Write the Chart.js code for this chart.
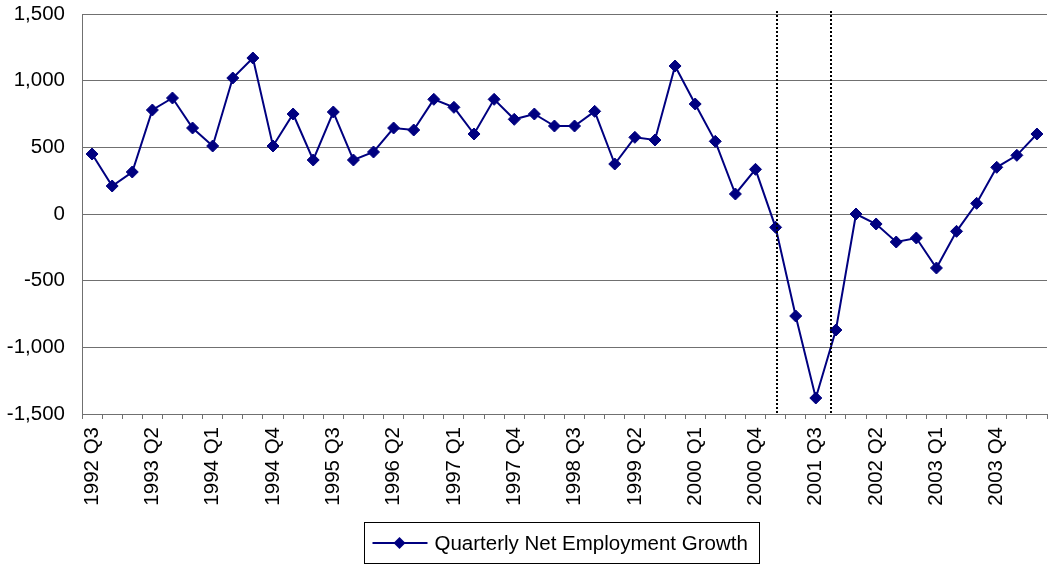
<!DOCTYPE html>
<html>
<head>
<meta charset="utf-8">
<script src="https://cdn.jsdelivr.net/npm/chart.js@4/dist/chart.umd.min.js"></script>
<style>
  html, body { margin: 0; padding: 0; background: #fff; }
  #wrap { width: 1049px; height: 565px; }
</style>
</head>
<body>
<div id="wrap"><canvas id="employmentChart"></canvas></div>
<script>
const quarters = [
  '1992 Q3', '1992 Q4', '1993 Q1', '1993 Q2', '1993 Q3', '1993 Q4',
  '1994 Q1', '1994 Q2', '1994 Q3', '1994 Q4', '1995 Q1', '1995 Q2',
  '1995 Q3', '1995 Q4', '1996 Q1', '1996 Q2', '1996 Q3', '1996 Q4',
  '1997 Q1', '1997 Q2', '1997 Q3', '1997 Q4', '1998 Q1', '1998 Q2',
  '1998 Q3', '1998 Q4', '1999 Q1', '1999 Q2', '1999 Q3', '1999 Q4',
  '2000 Q1', '2000 Q2', '2000 Q3', '2000 Q4', '2001 Q1', '2001 Q2',
  '2001 Q3', '2001 Q4', '2002 Q1', '2002 Q2', '2002 Q3', '2002 Q4',
  '2003 Q1', '2003 Q2', '2003 Q3', '2003 Q4', '2004 Q1', '2004 Q2'
];

const netGrowth = [
  450, 210, 315, 780, 870, 645,
  510, 1020, 1170, 510, 750, 405,
  765, 405, 465, 645, 630, 860,
  800, 600, 860, 710, 750, 660,
  660, 770, 375, 575, 555, 1110,
  825, 545, 150, 335, -100, -765,
  -1380, -870, 0, -75, -210, -180,
  -405, -130, 80, 350, 440, 600
];

// recession start / end, in quarter positions on the x axis
const recessionLines = [34.05, 36.75];

const yTicks = [-1500, -1000, -500, 0, 500, 1000, 1500];

const seriesName = 'Quarterly Net Employment Growth';
const navy = '#000080';
const axisGray = '#707070';
const FONT = '"Liberation Sans", Arial, sans-serif';

// dotted vertical lines marking the recession
const recessionPlugin = {
  id: 'recession',
  afterDatasetsDraw(chart) {
    const { ctx, chartArea, scales } = chart;
    ctx.save();
    ctx.strokeStyle = '#000';
    ctx.lineWidth = 2;
    ctx.setLineDash([2, 2]);
    recessionLines.forEach(q => {
      const x = Math.round(scales.x.getPixelForValue(q));
      ctx.beginPath();
      ctx.moveTo(x, chartArea.top - 3);
      ctx.lineTo(x, chartArea.bottom);
      ctx.stroke();
    });
    ctx.restore();
  }
};

// boxed legend with a line + diamond sample
const legendPlugin = {
  id: 'boxLegend',
  afterDraw(chart) {
    const { ctx } = chart;
    const ds = chart.data.datasets[0];
    ctx.save();
    ctx.font = '20.5px ' + FONT;
    const textW = ctx.measureText(ds.label).width;
    const boxW = Math.round(70 + textW + 12);
    const boxH = 41;
    const left = Math.round(561 - boxW / 2) + 0.5;
    const top = chart.height - 43 + 0.5;

    ctx.strokeStyle = '#000';
    ctx.lineWidth = 1;
    ctx.strokeRect(left, top, boxW, boxH);

    const cy = top + 20.5;
    ctx.strokeStyle = navy;
    ctx.lineWidth = 2;
    ctx.beginPath();
    ctx.moveTo(left + 8, cy);
    ctx.lineTo(left + 63, cy);
    ctx.stroke();

    const cx = left + 35, r = 6;
    ctx.fillStyle = navy;
    ctx.beginPath();
    ctx.moveTo(cx - r, cy);
    ctx.lineTo(cx, cy - r);
    ctx.lineTo(cx + r, cy);
    ctx.lineTo(cx, cy + r);
    ctx.closePath();
    ctx.fill();

    ctx.fillStyle = '#000';
    ctx.textBaseline = 'middle';
    ctx.textAlign = 'left';
    ctx.fillText(ds.label, left + 70, cy + 1);
    ctx.restore();
  }
};

new Chart(document.getElementById('employmentChart'), {
  type: 'line',
  data: {
    labels: quarters,
    datasets: [{
      label: seriesName,
      data: netGrowth,
      borderColor: navy,
      backgroundColor: navy,
      borderWidth: 2,
      tension: 0,
      pointStyle: 'rectRot',
      pointRadius: 6,
      pointBorderWidth: 1,
      pointBackgroundColor: navy,
      pointBorderColor: navy
    }]
  },
  options: {
    responsive: true,
    maintainAspectRatio: false,
    animation: false,
    layout: {
      autoPadding: false,
      padding: { top: 14, right: 2, bottom: 51, left: 0 }
    },
    plugins: {
      legend: { display: false },
      tooltip: { enabled: false }
    },
    scales: {
      x: {
        type: 'category',
        offset: true,
        grid: {
          offset: true,
          drawOnChartArea: false,
          drawTicks: true,
          tickLength: 5,
          color: axisGray
        },
        border: { color: axisGray, width: 1 },
        ticks: {
          autoSkip: false,
          maxRotation: 90,
          minRotation: 90,
          padding: 8,
          color: '#000',
          font: { family: FONT, size: 20.5 },
          callback: function (value, index) {
            return index % 3 === 0 ? this.getLabelForValue(value) : '';
          }
        },
        afterFit(scale) {
          scale.height = 100;
          scale.paddingLeft = 0;
          scale.paddingRight = 0;
        }
      },
      y: {
        min: yTicks[0],
        max: yTicks[yTicks.length - 1],
        afterBuildTicks(scale) {
          scale.ticks = yTicks.map(v => ({ value: v }));
        },
        grid: {
          color: axisGray,
          lineWidth: 1,
          drawTicks: false
        },
        border: { color: axisGray, width: 1 },
        ticks: {
          padding: 17,
          color: '#000',
          font: { family: FONT, size: 20.5 },
          callback: v => v.toLocaleString('en-US')
        },
        afterFit(scale) {
          scale.width = 82;
          scale.paddingTop = 0;
          scale.paddingBottom = 0;
        }
      }
    }
  },
  plugins: [recessionPlugin, legendPlugin]
});
</script>
</body>
</html>
